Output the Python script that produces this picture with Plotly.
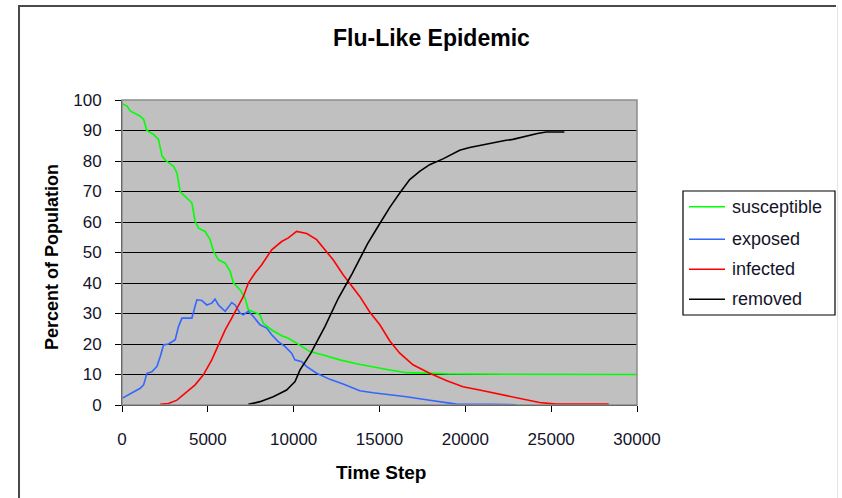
import plotly.graph_objects as go

# ---- data ----
time_susceptible = [0, 290, 480, 1060, 1260, 1450, 1840, 2130, 2330, 2520, 3000, 3200, 3390, 3780,
                    4070, 4260, 4460, 4840, 5130, 5330, 5620, 6010, 6300, 6490, 6880, 7170, 7360,
                    7750, 8040, 8230, 8720, 9300, 9690, 10170, 10950, 11720, 12690, 13660, 14630,
                    15600, 16570, 17530, 19000, 22500, 30000]
susceptible = [98.8, 98.0, 96.4, 94.7, 93.6, 90.0, 88.7, 87.0, 81.6, 80.3, 78.3, 76.1, 69.9, 67.9,
               66.3, 60.2, 58.0, 56.9, 54.2, 50.4, 47.6, 46.5, 43.8, 40.0, 37.8, 35.0, 31.2,
               30.3, 29.6, 26.8, 24.6, 22.7, 21.9, 20.3, 17.5, 16.4, 14.8, 13.5, 12.4,
               11.5, 10.6, 10.4, 10.2, 10.1, 10.0]

time_exposed = [0, 380, 670, 1060, 1260, 1450, 1740, 2030, 2230, 2420, 2710, 3100, 3290, 3490,
                4070, 4260, 4360, 4650, 4940, 5230, 5420, 5620, 6010, 6200, 6390, 6590, 6690,
                6880, 7070, 7360, 7650, 8040, 8430, 8720, 9100, 9490, 9880, 10070, 10470, 10760,
                11340, 12110, 12880, 13850, 14630, 15600, 16570, 17530, 18510, 19480, 21410, 22960]
exposed = [2.2, 3.3, 4.4, 5.5, 6.6, 10.4, 10.9, 12.6, 15.9, 19.7, 20.0, 21.4, 25.7, 28.5,
           28.5, 32.3, 34.5, 34.3, 32.8, 33.4, 34.7, 32.8, 30.7, 32.1, 33.6, 32.8, 31.8,
           30.1, 29.6, 30.7, 29.0, 26.3, 25.2, 23.0, 20.8, 19.2, 17.0, 14.8, 14.2, 12.6,
           10.4, 8.4, 6.9, 4.7, 4.0, 3.4, 2.7, 1.9, 1.1, 0.3, 0.2, 0.1]

time_infected = [2230, 2710, 3200, 3680, 4260, 4740, 5230, 5620, 6010, 6390, 6780, 7070, 7360,
                 7750, 8140, 8520, 8720, 9300, 9690, 10170, 10760, 11340, 11720, 12300, 12880,
                 13270, 13850, 14440, 15020, 15600, 16180, 16950, 17920, 18890, 19860, 20830,
                 21800, 22770, 23740, 24320, 25290, 28350]
infected = [0.2, 0.5, 1.6, 3.8, 6.6, 9.9, 14.8, 19.7, 24.6, 28.5, 32.3, 35.6, 40.0,
            43.3, 46.0, 49.3, 50.9, 53.6, 54.8, 56.9, 56.2, 54.2, 51.5, 47.6, 42.7,
            39.7, 35.6, 30.4, 26.3, 21.0, 17.0, 13.2, 10.4, 8.0, 6.0, 4.9,
            3.8, 2.7, 1.4, 0.8, 0.3, 0.3]

time_removed = [7360, 8040, 8810, 9590, 9780, 10080, 10370, 11000, 11820, 12600, 13400, 14300,
                15020, 15600, 16180, 16760, 17340, 17920, 18700, 19670, 20250, 20830, 21300,
                21800, 22300, 22770, 23250, 23740, 24200, 24710, 25770]
removed = [0.2, 1.1, 2.7, 4.9, 6.0, 7.7, 11.5, 17.0, 25.7, 35.0, 43.0, 52.8,
           59.5, 64.8, 69.5, 73.9, 76.6, 78.8, 80.7, 83.5, 84.4, 85.1, 85.7,
           86.2, 86.7, 87.1, 87.8, 88.4, 89.0, 89.5, 89.5]

series_names = ["susceptible", "exposed", "infected", "removed"]
series_colors = ["#00FF00", "#3366FF", "#FF0000", "#000000"]
x_ticks = [0, 5000, 10000, 15000, 20000, 25000, 30000]
y_ticks = [0, 10, 20, 30, 40, 50, 60, 70, 80, 90, 100]

FONT = "Liberation Sans, Arial, sans-serif"
TXT = "#14142a"

fig = go.Figure()
xs = [time_susceptible, time_exposed, time_infected, time_removed]
ys = [susceptible, exposed, infected, removed]
for name, col, x, y in zip(series_names, series_colors, xs, ys):
    fig.add_trace(go.Scatter(x=x, y=y, mode="lines", name=name,
                             line=dict(color=col, width=1.6), showlegend=False))

# plot-area geometry (pixels)
ML, MR, MT, MB = 122, 205, 100, 93
W, H = 842, 498
PW, PH = W - ML - MR, H - MT - MB

def px(x):
    return (x - ML) / PW

def py(y):
    return (H - MB - y) / PH

shapes = []
annotations = []

# custom legend
shapes.append(dict(type="rect", xref="paper", yref="paper",
                   x0=px(683), x1=px(835), y0=py(315), y1=py(191),
                   line=dict(color="#000000", width=1.2), fillcolor="white"))
rows = [206.7, 239.3, 269.3, 299.3]
for name, col, ry in zip(series_names, series_colors, rows):
    shapes.append(dict(type="line", xref="paper", yref="paper",
                       x0=px(689), x1=px(725), y0=py(ry), y1=py(ry),
                       line=dict(color=col, width=1.6)))
    annotations.append(dict(text=name, xref="paper", yref="paper", x=px(730), y=py(ry),
                            xanchor="left", yanchor="middle", showarrow=False,
                            font=dict(family=FONT, size=18, color=TXT)))

# plot area border (gray)
shapes.append(dict(type="rect", xref="paper", yref="paper", x0=0, x1=1, y0=0, y1=1,
                   line=dict(color="#8c8c8c", width=1.5), layer="above"))
# outer frame
shapes.append(dict(type="path", xref="paper", yref="paper",
                   path=f"M {px(19)} {py(510)} L {px(19)} {py(6)} L {px(836)} {py(6)}",
                   line=dict(color="#4a4a4a", width=2)))
shapes.append(dict(type="line", xref="paper", yref="paper",
                   x0=px(837.5), x1=px(837.5), y0=py(6), y1=py(510),
                   line=dict(color="#e4e4e4", width=1)))

# titles
annotations.append(dict(text="<b>Flu-Like Epidemic</b>", xref="paper", yref="paper",
                        x=px(431), y=py(38), xanchor="center", yanchor="middle", showarrow=False,
                        font=dict(family=FONT, size=23, color="#000000")))
annotations.append(dict(text="<b>Time Step</b>", xref="paper", yref="paper",
                        x=px(381), y=py(472), xanchor="center", yanchor="middle", showarrow=False,
                        font=dict(family=FONT, size=19, color="#000000")))
annotations.append(dict(text="<b>Percent of Population</b>", xref="paper", yref="paper",
                        x=px(52), y=py(257), xanchor="center", yanchor="middle", showarrow=False,
                        textangle=-90, font=dict(family=FONT, size=18, color="#000000")))

fig.update_layout(
    width=W, height=H,
    margin=dict(l=ML, r=MR, t=MT, b=MB, pad=0),
    paper_bgcolor="white", plot_bgcolor="#C0C0C0",
    shapes=shapes, annotations=annotations,
    showlegend=False,
)
fig.update_xaxes(range=[0, 30000], tickvals=x_ticks, ticktext=[str(v) for v in x_ticks],
                 showgrid=False, zeroline=False, showline=True, linecolor="#000000", linewidth=1,
                 ticks="outside", ticklen=6, tickcolor="#000000", tickwidth=1,
                 ticklabelstandoff=13,
                 tickfont=dict(family=FONT, size=17, color=TXT))
fig.update_yaxes(range=[0, 100], tickvals=y_ticks, ticktext=[str(v) for v in y_ticks],
                 showgrid=True, gridcolor="#000000", gridwidth=1.4, zeroline=False,
                 showline=True, linecolor="#000000", linewidth=1,
                 ticks="outside", ticklen=6, tickcolor="#000000", tickwidth=1,
                 ticklabelstandoff=10,
                 tickfont=dict(family=FONT, size=17, color=TXT))

fig.write_html("out.html")
